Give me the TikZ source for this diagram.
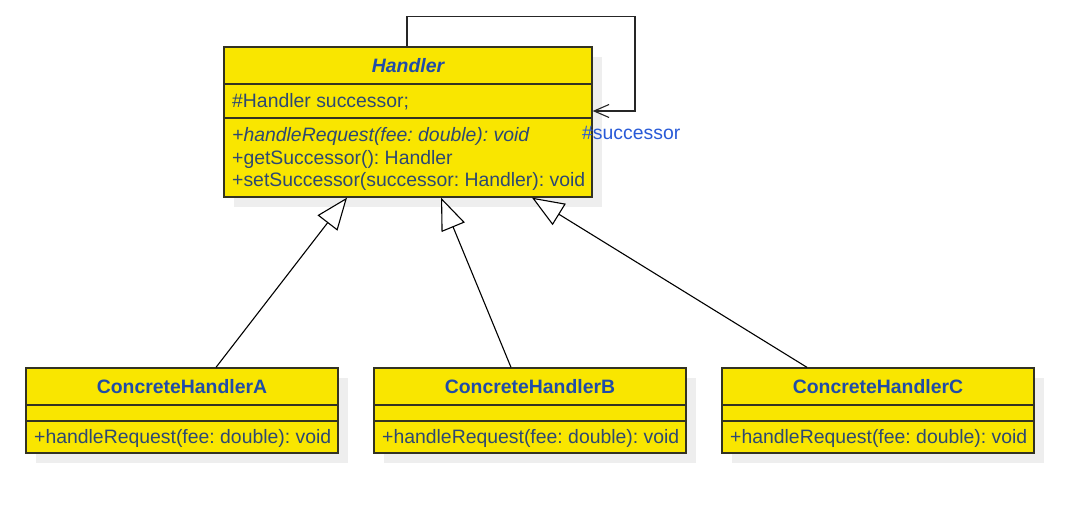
\documentclass[tikz,border=0pt]{standalone}
\usepackage{fontspec}
\setmainfont{Liberation Sans}
\usetikzlibrary{arrows.meta,calc}
\definecolor{umlyellow}{RGB}{249,230,0}
\definecolor{umlborder}{RGB}{51,51,34}
\definecolor{titleblue}{RGB}{32,76,168}
\definecolor{bodyblue}{RGB}{45,72,115}
\definecolor{labelblue}{RGB}{40,90,215}
\definecolor{shadowgray}{RGB}{238,238,238}
\frenchspacing
\tikzset{
  classbox/.style={draw=umlborder, line width=1.3pt, fill=umlyellow, inner sep=0pt},
  shadowbox/.style={fill=shadowgray, inner sep=0pt},
  divider/.style={draw=umlborder, line width=1.3pt},
  txt/.style={font=\fontsize{19.4pt}{23pt}\selectfont\frenchspacing, inner sep=0pt, text=bodyblue, anchor=base west},
  ttl/.style={font=\fontsize{19.4pt}{23pt}\selectfont\bfseries, inner sep=0pt, text=titleblue, anchor=base},
  gen/.style={-{Triangle[open,length=32pt,width=25pt,fill=white]}, line width=1.1pt, draw=black},
  assoc/.style={-{Straight Barb[length=15pt,width=13pt]}, line width=1.1pt, draw=black!85},
}
\begin{document}
\begin{tikzpicture}[x=1pt,y=-1pt]
\useasboundingbox (0,0) rectangle (1083,511);
% shadows
\node[shadowbox, minimum width=368pt, minimum height=150pt] (hs) at (418,132) {};
\node[shadowbox, minimum width=312pt, minimum height=85pt] (as) at (192,420.5) {};
\node[shadowbox, minimum width=312pt, minimum height=85pt] (bs) at (540,420.5) {};
\node[shadowbox, minimum width=312pt, minimum height=85pt] (cs) at (888,420.5) {};
% boxes
\node[classbox, minimum width=368pt, minimum height=150pt] (h) at (408,122) {};
\node[classbox, minimum width=312pt, minimum height=85pt] (a) at (182,410.5) {};
\node[classbox, minimum width=312pt, minimum height=85pt] (b) at (530,410.5) {};
\node[classbox, minimum width=312pt, minimum height=85pt] (c) at (878,410.5) {};
% dividers
\draw[divider] (h.west |- 0,84) -- (h.east |- 0,84);
\draw[divider] (h.west |- 0,118) -- (h.east |- 0,118);
\foreach \n in {a,b,c}{
  \draw[divider] (\n.west |- 0,405) -- (\n.east |- 0,405);
  \draw[divider] (\n.west |- 0,421) -- (\n.east |- 0,421);
}
% Handler texts
\node[ttl, font=\fontsize{19.4pt}{23pt}\selectfont\bfseries\itshape] (ht) at (408,73) {Handler};
\node[txt] (hattr) at (232,107) {\#Handler successor;};
\node[txt, font=\fontsize{19.4pt}{23pt}\selectfont\frenchspacing\itshape] (hm1) at (232,141.5) {+handleRequest(fee: double): void};
\node[txt] (hm2) at (232,164) {+getSuccessor(): Handler};
\node[txt] (hm3) at (232,186.5) {+setSuccessor(successor: Handler): void};
% Concrete texts
\node[ttl] (at) at (182,393) {ConcreteHandlerA};
\node[txt] (am) at (34,443) {+handleRequest(fee: double): void};
\node[ttl] (bt) at (530,393) {ConcreteHandlerB};
\node[txt] (bm) at (382,443) {+handleRequest(fee: double): void};
\node[ttl] (ct) at (878,393) {ConcreteHandlerC};
\node[txt] (cm) at (730,443) {+handleRequest(fee: double): void};
% generalizations
\draw[gen] ([xshift=34pt]a.north) -- ([xshift=-61pt]h.south);
\draw[gen] ([xshift=-19pt]b.north) -- ([xshift=33pt]h.south);
\draw[gen] ([xshift=-71pt]c.north) -- ([xshift=124pt]h.south);
% self association
\coordinate (loopr) at (635,111);
\draw[assoc] ([xshift=-1pt]h.north) -- ++(0,-30) -| (loopr) -- (h.east |- loopr);
\node[txt, text=labelblue] (lbl) at (582,139) {\#successor};
\end{tikzpicture}
\end{document}
